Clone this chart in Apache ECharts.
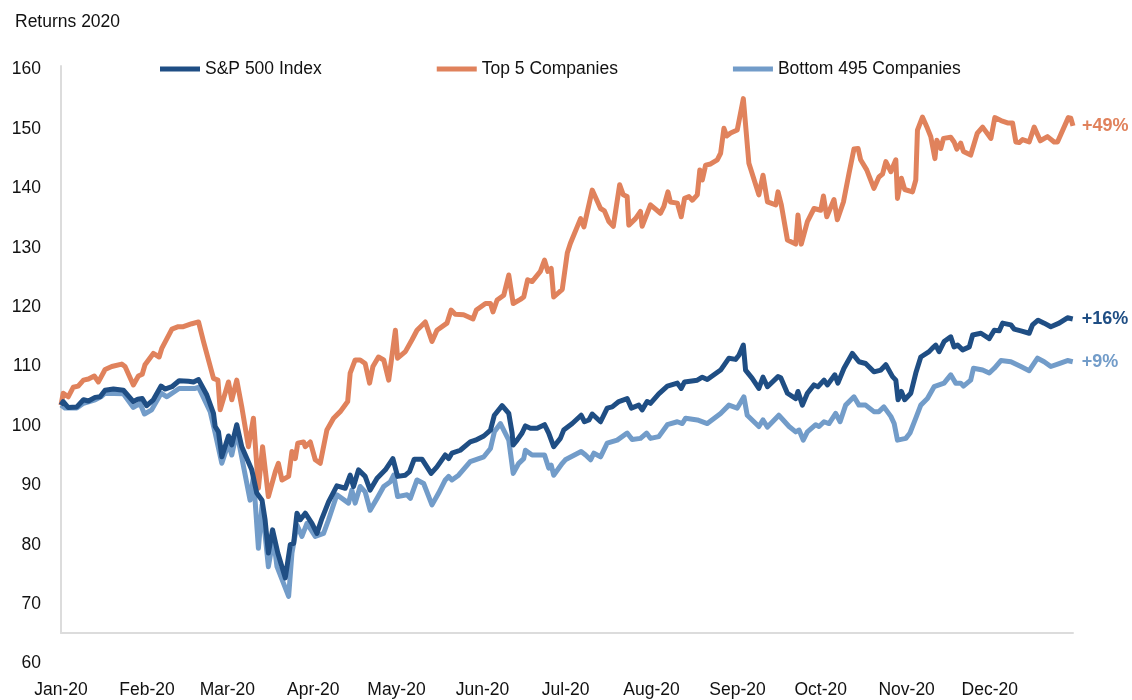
<!DOCTYPE html>
<html lang="en">
<head>
    <meta charset="UTF-8">
    <title>Returns 2020</title>
    <script src="https://cdn.jsdelivr.net/npm/echarts@6/dist/echarts.min.js"></script>
    <style>
        html, body { margin: 0; padding: 0; background: #fff; }
        #container { width: 1132px; height: 700px; }
    </style>
</head>
<body>
<div id="container"></div>
<script type="text/javascript">
    // day of year (0 = 1 Jan 2020) and index level
    var top5Day = [0,0.8,2.6,4.4,6.2,8.1,9.9,12.0,13.5,15.9,18.3,21.9,23.1,26.1,27.9,29.3,30.3,33.3,35.4,36.4,
        40.0,42.3,44.1,47.2,49.6,51.4,55.0,56.6,57.4,60.4,61.6,63.4,65.2,67.6,69.4,71.2,72.7,74.8,77.3,78.4,
        79.7,82.1,83.3,84.5,85.4,87.5,88.1,89.9,91.7,93.5,95.9,98.3,100.7,103.4,104.3,106.1,107.9,109.7,111.3,112.5,
        114.5,116.4,118.2,120.6,121.4,124.2,126.6,128.4,131.4,133.8,135.6,139.2,140.7,142.2,145.2,148.6,149.8,153.1,154.9,155.8,
        157.3,159.7,161.5,163.1,165.7,166.9,168.3,169.9,172.9,174.4,175.6,176.8,177.7,180.8,182.6,183.7,187.4,188.6,191.6,194.6,
        196.0,197.6,199.2,201.5,202.8,204.2,204.8,207.2,209.0,209.6,212.6,216.2,217.4,218.9,219.8,222.3,223.7,224.9,226.5,227.7,
        229.5,230.4,231.3,232.5,234.3,236.7,237.9,239.1,240.1,241.5,243.9,246.1,248.1,251.7,253.2,254.8,257.8,258.6,259.8,262.0,
        265.0,265.8,267.0,269.2,271.6,274.0,275.0,276.2,278.8,280.0,282.2,284.2,286.0,287.5,288.4,290.6,293.2,295.0,296.3,297.5,
        299.3,301.1,301.7,303.1,304.3,307.1,308.3,308.9,310.7,312.5,313.7,315.2,315.9,317.3,318.3,320.9,322.1,323.1,324.5,325.5,
        328.1,330.5,332.4,335.4,336.8,339.0,341.4,343.2,344.4,345.6,346.8,349.2,351.0,353.2,355.8,358.2,359.4,363.3,364.2,365.0];
    var top5Val = [103.5,105.5,104.9,106.5,106.7,107.7,107.9,108.4,107.4,109.5,110.0,110.4,110.0,106.9,108.4,108.7,110.3,112.2,111.6,113.1,
        116.3,116.7,116.7,117.2,117.5,114.2,108.0,107.7,102.7,107.4,104.4,107.7,103.2,96.5,101.3,89.5,96.5,88.1,92.3,93.7,
        90.9,91.5,95.7,94.5,97.1,97.3,96.5,97.3,94.3,93.7,99.3,101.3,102.4,104.1,108.9,111.1,111.1,110.5,107.2,110.0,
        111.6,111.1,107.7,116.1,111.4,112.5,114.5,116.1,117.5,114.2,116.1,117.3,119.5,118.8,118.7,118.0,119.5,120.6,120.6,119.2,
        121.2,122.0,125.4,120.6,121.3,121.7,124.6,124.3,126.0,127.9,126.0,126.5,121.7,123.0,129.1,130.7,134.9,133.5,139.7,136.6,
        136.2,134.4,133.6,140.6,138.9,138.6,133.8,134.9,136.1,133.6,137.2,135.8,136.9,139.4,137.7,137.5,135.2,138.3,138.6,138.0,
        138.9,143.1,141.4,143.9,144.1,144.8,145.9,150.1,148.8,149.3,149.8,155.1,144.2,138.9,142.2,137.7,137.2,139.4,137.2,131.3,
        130.6,135.5,130.6,134.4,136.6,136.3,138.7,135.2,138.1,134.7,137.7,142.5,146.6,146.7,144.8,143.1,140.0,141.9,142.4,144.5,
        142.8,144.8,138.3,141.7,139.8,139.4,141.4,149.8,152.0,150.1,148.7,145.0,148.1,146.7,148.4,148.6,147.8,146.6,147.6,146.2,
        145.6,149.3,150.3,148.4,151.9,151.4,151.0,151.0,147.8,147.7,148.2,147.8,150.3,148.0,148.7,147.8,147.8,151.9,151.8,150.5];

    var spxDay = [0,0.8,2.6,5.7,8.1,9.9,12.3,14.1,15.9,18.9,22.5,26.1,27.7,29.3,30.9,33.3,36.1,37.5,40.0,42.6,
        46.0,47.8,49.6,52.6,55.0,55.6,56.8,58.0,60.4,61.6,63.4,65.2,68.8,70.6,72.5,73.6,74.8,76.3,78.2,80.9,
        82.7,83.9,85.1,86.3,88.1,90.5,92.3,94.1,96.5,99.5,102.5,104.3,105.5,107.3,109.7,111.5,114.0,117.0,119.7,121.4,
        124.2,125.7,127.4,130.2,133.5,135.6,138.6,139.8,141.0,144.0,147.6,149.5,152.5,154.9,156.3,159.1,161.5,162.7,163.1,164.5,
        166.3,167.5,169.3,171.7,174.4,175.9,177.7,180.1,181.3,184.4,187.6,188.8,190.4,191.6,194.6,197.0,198.8,201.2,204.2,205.7,
        208.4,209.6,211.4,212.6,215.6,218.7,222.3,223.7,224.9,229.5,231.3,233.1,237.9,240.9,243.3,244.5,246.1,246.9,249.3,251.7,
        253.2,254.8,258.6,259.6,262.0,265.0,265.8,267.4,269.2,271.6,273.0,275.2,276.4,279.1,280.2,282.4,285.4,287.8,290.2,293.2,
        295.7,297.5,299.9,301.1,301.9,303.1,304.3,306.5,308.3,310.1,313.1,314.3,315.5,316.7,318.5,320.9,322.1,323.4,325.2,327.6,
        328.8,331.8,334.8,336.6,338.4,339.6,342.6,343.8,346.2,349.2,350.4,352.4,354.6,357.0,360.0,363.0,364.9];
    var spxVal = [103.5,104.1,103.1,103.2,104.4,104.2,104.8,104.9,106.0,106.2,106.0,104.1,104.5,104.6,103.4,104.4,106.7,106.2,106.6,107.6,
        107.5,107.4,107.8,105.2,102.1,99.9,99.0,94.8,98.3,96.8,100.2,96.5,92.6,88.7,87.5,84.2,78.6,82.5,78.6,74.4,
        80.0,80.2,85.3,84.2,85.3,83.6,81.9,84.4,87.2,89.9,89.5,91.7,89.8,92.6,91.5,89.2,91.2,92.6,94.5,91.5,
        91.7,92.3,94.4,94.4,92.0,93.1,95.1,94.5,95.4,95.9,97.3,97.6,98.3,99.3,101.8,103.4,102.1,98.8,96.8,97.6,
        98.8,100.0,99.6,99.6,100.2,98.8,96.5,97.9,99.3,100.4,101.8,100.7,101.0,102.0,100.7,103.0,103.2,104.1,104.6,103.0,
        103.5,102.7,104.1,103.8,105.4,106.7,107.2,106.3,107.4,107.7,108.2,107.8,109.4,111.4,111.2,111.9,113.6,109.4,108.0,106.3,
        108.2,106.6,108.3,108.1,105.5,104.6,105.8,103.5,105.5,106.9,106.6,107.7,106.9,108.6,107.2,109.7,112.2,110.8,110.5,109.1,
        109.4,110.3,108.3,107.7,104.4,105.8,104.4,105.5,108.9,111.6,112.5,113.1,113.6,112.5,114.2,115.0,113.3,113.6,112.8,113.3,
        115.3,115.6,114.7,116.1,116.0,117.3,117.0,116.3,116.0,115.6,117.0,117.8,117.3,116.7,117.3,118.2,118.0];

    var bottomDay = [0,1.4,5.7,8.1,12.3,14.7,15.9,22.5,26.1,28.5,30.1,32.7,36.1,38.2,42.6,48.4,49.6,53.8,55.6,58.0,
        60.4,61.6,63.4,68.2,69.4,71.2,72.5,74.8,76.6,77.9,82.1,83.3,85.1,86.9,88.7,91.7,94.7,96.5,99.5,103.7,
        104.9,106.1,107.9,109.7,111.5,114.0,116.4,118.8,120.0,121.4,124.8,126.0,128.4,130.8,133.8,136.2,138.6,139.8,141.0,143.4,
        147.6,152.5,154.9,156.3,158.5,161.5,163.1,165.1,166.9,167.5,169.9,172.9,174.4,175.9,176.8,177.7,180.8,181.9,187.6,189.2,
        191.0,192.2,194.6,197.0,200.6,204.2,206.0,209.0,211.2,212.6,215.6,218.7,222.3,224.1,225.3,229.5,233.1,237.9,240.9,243.9,
        246.3,247.5,251.7,253.2,254.8,258.9,262.6,265.0,266.2,267.7,269.2,272.2,273.4,275.2,277.0,279.4,281.0,283.0,286.0,287.8,
        290.2,293.2,295.0,296.8,299.3,300.5,301.7,304.7,306.2,308.3,310.1,312.5,314.9,316.7,318.5,320.9,322.7,324.5,325.5,328.1,
        329.1,332.4,334.8,336.6,339.0,342.6,346.2,349.2,352.2,354.6,357.0,360.0,363.0,364.9];
    var bottomVal = [103.5,103.0,103.0,103.8,104.4,105.0,105.5,105.4,103.1,103.8,102.0,102.7,105.5,104.9,106.3,106.3,106.5,102.4,98.8,93.7,
        97.1,95.1,99.0,87.5,91.5,79.4,86.7,76.3,81.1,76.3,71.3,78.6,83.3,81.4,83.6,81.4,81.9,84.2,88.4,87.0,
        89.2,87.0,89.8,88.9,85.8,87.8,89.8,90.6,91.7,88.1,88.4,87.8,90.9,90.3,86.7,88.7,90.9,91.5,90.9,91.7,
        94.0,94.8,96.2,99.0,100.4,97.6,92.0,93.7,94.5,95.9,95.1,95.1,95.1,92.9,93.4,91.7,93.7,94.3,95.7,95.1,
        94.3,95.4,94.8,97.1,97.6,98.8,97.7,97.9,98.8,97.9,98.2,100.2,100.7,100.4,101.3,101.0,100.4,102.1,103.5,103.0,
        104.9,101.8,99.9,101.0,99.8,101.8,99.9,99.0,99.3,97.6,99.0,100.2,99.9,100.7,100.4,102.1,100.7,103.5,104.9,103.5,
        103.5,102.4,102.4,103.2,101.6,100.4,97.6,97.9,98.8,101.3,103.5,104.6,106.6,106.9,107.2,108.6,107.2,107.2,106.7,107.7,
        109.7,109.4,108.9,109.7,111.0,110.8,110.0,109.3,111.4,110.8,110.0,110.5,111.0,110.8];

    var seriesNames = ['S&P 500 Index', 'Top 5 Companies', 'Bottom 495 Companies'];
    var endTexts = ['+16%', '+49%', '+9%'];
    var monthNames = ['Jan','Feb','Mar','Apr','May','Jun','Jul','Aug','Sep','Oct','Nov','Dec'];
    var yTicks = { min: 60, max: 160, step: 10 };

    var colors = ['#1f4e84', '#e0825c', '#729cc9'];
    var fontName = "'Liberation Sans', Arial, sans-serif";
    var fontSize = 17.5;
    var oneDay = 24 * 3600 * 1000;
    var startTime = new Date(2020, 0, 1).getTime();
    var endTime = new Date(2020, 11, 31).getTime();

    function toPoints(days, vals){
        var pts = [];
        for (var i = 0; i < days.length; i++){
            pts.push([startTime + days[i] * oneDay, vals[i]]);
        }
        return pts;
    }

    function makeSeries(idx, pts, z){
        return {
            name: seriesNames[idx],
            type: 'line',
            xAxisIndex: 0,
            yAxisIndex: 0,
            symbol: 'none',
            z: z,
            lineStyle: { color: colors[idx], width: 5, join: 'round' },
            itemStyle: { color: colors[idx] },
            endLabel: {
                show: true,
                formatter: endTexts[idx],
                color: colors[idx],
                fontFamily: fontName,
                fontWeight: 'bold',
                fontSize: 18,
                distance: 9
            },
            data: pts
        };
    }

    var dom = document.getElementById("container");
    var myChart = echarts.init(dom, null, { renderer: 'canvas' });

    var option = {
        animation: false,
        backgroundColor: '#fff',
        textStyle: { fontFamily: fontName },
        title: {
            text: 'Returns 2020',
            left: 10,
            top: 8,
            textStyle: { fontFamily: fontName, fontSize: fontSize, fontWeight: 'normal', color: '#111' }
        },
        legend: {
            left: 155,
            top: 55,
            itemGap: 115,
            itemWidth: 40,
            itemHeight: 5,
            icon: 'rect',
            selectedMode: false,
            textStyle: { fontFamily: fontName, fontSize: fontSize, color: '#111' },
            data: seriesNames
        },
        grid: [
            // plotting area; its height runs from the 160 label down to the 60 label
            { left: 61, right: 59, top: 69.5, bottom: 36.5 },
            // only used to draw the light axis frame
            { left: 61, right: 59, top: 66, bottom: 67 }
        ],
        xAxis: [{
            type: 'time',
            gridIndex: 0,
            min: startTime,
            max: endTime,
            splitNumber: 12,
            minInterval: 28 * oneDay,
            maxInterval: 31 * oneDay,
            axisLine: { show: false },
            axisTick: { show: false },
            splitLine: { show: false },
            axisLabel: {
                margin: 18,
                fontFamily: fontName,
                fontSize: fontSize,
                color: '#111',
                showMinLabel: true,
                formatter: function(value){
                    return monthNames[new Date(value).getMonth()] + '-20';
                }
            }
        }, {
            type: 'value',
            gridIndex: 1,
            min: 0,
            max: 1,
            axisLine: { show: true, lineStyle: { color: '#dcdcdc', width: 2 } },
            axisTick: { show: false },
            axisLabel: { show: false },
            splitLine: { show: false }
        }],
        yAxis: [{
            type: 'value',
            gridIndex: 0,
            min: yTicks.min,
            max: yTicks.max,
            interval: yTicks.step,
            axisLine: { show: false },
            axisTick: { show: false },
            splitLine: { show: false },
            axisLabel: { margin: 20, fontFamily: fontName, fontSize: fontSize, color: '#111' }
        }, {
            type: 'value',
            gridIndex: 1,
            min: 0,
            max: 1,
            axisLine: { show: true, lineStyle: { color: '#dcdcdc', width: 2 } },
            axisTick: { show: false },
            axisLabel: { show: false },
            splitLine: { show: false }
        }],
        series: [
            makeSeries(0, toPoints(spxDay, spxVal), 4),
            makeSeries(1, toPoints(top5Day, top5Val), 3),
            makeSeries(2, toPoints(bottomDay, bottomVal), 2)
        ]
    };

    if (option && typeof option === "object") {
        myChart.setOption(option, true);
    }
</script>
</body>
</html>
